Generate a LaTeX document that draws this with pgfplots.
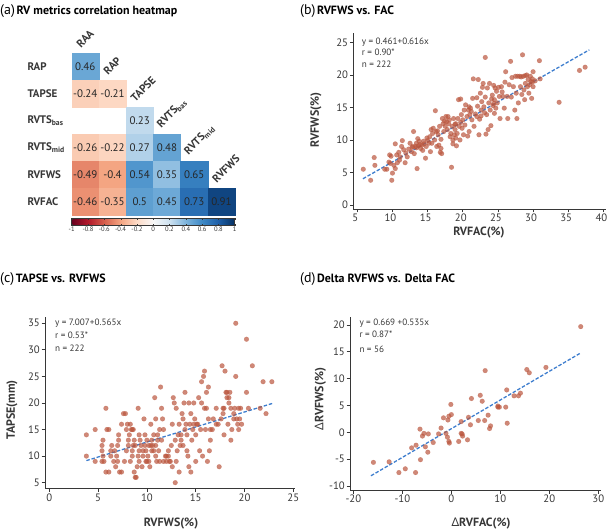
\documentclass[border=0pt]{standalone}
\usepackage{pgfplots}
\pgfplotsset{compat=1.18}
\usepackage{fontspec}
\setmainfont{PT Sans}
\newfontfamily\greekfont{Noto Sans}
\newcommand\D{{\greekfont\char"0394}}
\definecolor{dotc}{RGB}{186,86,62}
\definecolor{linec}{RGB}{62,126,206}
\definecolor{axc}{RGB}{55,55,55}
\pgfplotsset{
  sc/.style={scale only axis, axis x line*=bottom, axis y line*=left,
    axis line style={axc, line width=0.7bp}, tick style={axc, line width=0.7bp},
    tick align=outside, major tick length=3.5bp,
    tick label style={font=\fontsize{10.8}{11}\selectfont, text=axc, inner sep=1.5bp},
    /pgf/number format/assume math mode=true, clip=false},
  dots/.style={only marks, mark=*, mark size=2.35bp, mark options={fill=dotc, draw=dotc, fill opacity=0.7, draw opacity=0.45}},
  fitl/.style={no marks, linec, line width=1.3bp, dash pattern=on 3.5bp off 1.8bp}
}
\begin{document}
\begin{tikzpicture}
\path[use as bounding box] (0bp,0bp) rectangle (608bp,531bp);
% ---------- (a) heatmap
\begin{axis}[scale only axis, at={(71.7bp,315.7bp)}, anchor=south west, width=163.3bp, height=162bp,
  xmin=-0.5, xmax=5.5, ymin=-0.5, ymax=5.5, hide axis, clip=false,
  colormap={rdbu}{rgb255=(103,0,31) rgb255=(178,24,43) rgb255=(214,96,77) rgb255=(244,165,130) rgb255=(253,219,199) rgb255=(247,247,247) rgb255=(205,225,240) rgb255=(125,180,220) rgb255=(62,137,198) rgb255=(30,95,168) rgb255=(5,48,97)},
  point meta min=-1, point meta max=1,
  colorbar horizontal,
  colorbar style={scale only axis, at={(0,-0.018)}, anchor=north west, width=163bp, height=7.5bp,
    xtick={-1,-0.8,-0.6,-0.4,-0.2,0,0.2,0.4,0.6,0.8,1},
    xticklabels={-1,-0.8,-0.6,-0.4,-0.2,0,0.2,0.4,0.6,0.8,1},
    major tick length=1.5bp, tick style={axc},
    xticklabel style={font=\fontsize{6.6}{7}\selectfont, text=axc, inner sep=1bp},
    axis line style={axc, line width=0.5bp}},
]
\addplot[scatter, only marks, mark=square*, mark size=13.6bp, point meta=explicit,
  scatter/use mapped color={draw=mapped color, fill=mapped color}]
table[x=x, y=y, meta=v]{
x y v
0 5 0.46
0 4 -0.24
1 4 -0.21
2 3 0.23
0 2 -0.26
1 2 -0.22
2 2 0.27
3 2 0.48
0 1 -0.49
1 1 -0.4
2 1 0.54
3 1 0.35
4 1 0.65
0 0 -0.46
1 0 -0.35
2 0 0.5
3 0 0.45
4 0 0.73
5 0 0.91
};
\addplot[only marks, mark=none, point meta=explicit symbolic, nodes near coords, nodes near coords align=center,
  every node near coord/.append style={font=\fontsize{11}{11}\selectfont, text=black!85, anchor=center, inner sep=0}]
table[x=x, y=y, meta=lab]{
x y lab
0 5 0.46
0 4 -0.24
1 4 -0.21
2 3 0.23
0 2 -0.26
1 2 -0.22
2 2 0.27
3 2 0.48
0 1 -0.49
1 1 -0.4
2 1 0.54
3 1 0.35
4 1 0.65
0 0 -0.46
1 0 -0.35
2 0 0.5
3 0 0.45
4 0 0.73
5 0 0.91
};
\end{axis}
\begin{scope}[every node/.style={font=\bfseries\fontsize{11}{11}\selectfont, text=axc}]
\node[anchor=west] at (24bp,464.2bp) {RAP};
\node[anchor=west] at (24bp,437.2bp) {TAPSE};
\node[anchor=west] at (24bp,410.2bp) {RVTS\textsubscript{bas}};
\node[anchor=west] at (24bp,383.2bp) {RVTS\textsubscript{mid}};
\node[anchor=west] at (24bp,356.2bp) {RVFWS};
\node[anchor=west] at (24bp,329.2bp) {RVFAC};
\node[anchor=south west, rotate=45, inner sep=1bp] at (81bp,481bp) {RAA};
\node[anchor=south west, rotate=45, inner sep=1bp] at (108.2bp,454bp) {RAP};
\node[anchor=south west, rotate=45, inner sep=1bp] at (135.4bp,427bp) {TAPSE};
\node[anchor=south west, rotate=45, inner sep=1bp] at (162.6bp,400bp) {RVTS\textsubscript{bas}};
\node[anchor=south west, rotate=45, inner sep=1bp] at (189.8bp,373bp) {RVTS\textsubscript{mid}};
\node[anchor=south west, rotate=45, inner sep=1bp] at (217bp,346bp) {RVFWS};
\end{scope}
% ---------- (b)
\begin{axis}[sc, at={(353.3bp,322bp)}, anchor=south west, width=252.2bp, height=176bp,
  xmin=4.43, xmax=40.3, ymin=-0.62, ymax=26.46, xtick={5,10,...,40}, ytick={0,5,...,25},
  xticklabel style={xshift=-2bp}]
\addplot[dots] table{
5.85 5.5
6.9 3.8
7.4 7.3
7.5 6.1
8.9 5.5
9.2 5.5
9.6 7.7
9.8 7.5
9.7 6.4
9.9 3.8
10.0 4.9
10.2 6.1
10.4 5.6
10.4 9.4
10.6 7.7
10.7 6.5
11.1 7.4
11.3 9.0
11.4 9.9
11.6 8.5
11.8 6.5
11.9 8.0
12.1 7.4
12.3 8.6
12.5 9.5
12.7 8.2
12.9 9.0
13.0 11.3
13.1 7.9
13.3 9.0
13.4 9.5
13.4 8.8
13.5 5.6
13.6 10.2
13.7 9.1
13.8 9.8
14.0 8.7
14.2 9.2
14.4 9.8
14.5 9.4
14.7 7.2
14.8 9.0
14.9 10.3
15.2 9.5
15.3 10.5
15.4 8.2
15.5 11.6
15.6 9.5
15.7 11.0
15.8 11.8
16.0 10.0
16.1 14.5
16.2 11.3
16.3 9.0
16.5 10.8
16.6 9.2
16.7 12.1
16.8 8.1
16.9 8.7
17.0 7.9
17.1 13.3
17.2 12.5
17.3 11.3
17.5 12.1
17.6 13.6
17.7 12.8
17.8 11.6
17.9 13.6
18.0 12.5
18.1 13.1
18.2 10.5
18.3 11.0
18.4 5.8
18.5 12.1
18.6 10.0
18.7 13.3
18.8 10.8
18.9 11.6
19.0 10.3
19.0 12.5
19.1 9.1
19.2 11.0
19.3 13.3
19.4 16.2
19.5 12.1
19.6 10.0
19.7 16.3
19.8 13.9
19.9 11.8
20.0 13.1
20.1 10.8
20.2 14.6
20.4 15.4
20.6 13.6
20.7 10.6
20.8 14.6
20.9 15.1
21.0 13.9
21.2 14.4
21.3 13.1
21.4 16.4
21.5 19.4
21.6 12.1
21.8 14.0
22.0 13.6
22.1 15.2
22.2 19.3
22.3 10.8
22.4 13.2
22.5 17.2
22.6 14.6
22.6 13.7
22.7 15.9
22.8 18.1
22.9 18.7
23.0 15.1
23.2 22.7
23.2 16.6
23.3 10.9
23.4 13.9
23.5 18.0
23.6 11.6
23.7 15.7
23.8 18.7
23.9 14.6
24.0 12.2
24.1 16.3
24.2 16.9
24.3 15.3
24.4 18.4
24.5 14.1
24.5 16.2
24.6 18.0
24.7 14.9
24.8 17.5
24.9 15.7
25.1 18.1
25.2 16.7
25.3 13.3
25.5 18.2
25.7 16.7
25.9 14.9
26.1 20.5
26.3 16.7
26.4 13.3
26.6 18.5
26.8 22.1
26.9 16.6
27.2 18.2
27.4 14.6
27.5 19.8
27.6 17.2
27.7 13.3
27.8 19.8
27.9 15.7
28.1 19.8
28.2 18.2
28.3 19.7
28.4 17.0
28.5 23.1
28.6 19.8
28.7 17.7
28.8 16.2
28.9 18.7
29.1 20.0
29.2 18.2
29.3 19.3
29.4 17.2
29.5 18.5
29.6 19.8
29.7 19.0
29.8 16.4
29.9 19.4
30.0 20.5
30.0 18.2
30.9 22.2
31.0 19.4
33.7 15.8
36.6 20.7
37.4 21.2
12.8 8.9
13.9 9.3
14.3 8.4
15.0 9.9
16.4 11.4
17.4 12.9
18.9 12.4
19.7 12.7
20.3 12.3
21.1 14.9
22.0 16.5
23.1 14.2
24.4 15.6
25.6 17.4
26.0 18.9
27.0 19.6
28.9 19.9
29.9 18.9
30.3 19.1
11.0 6.9
10.9 8.1
9.5 6.6
16.9 10.1
18.6 9.4
20.9 11.3
};
\addplot[fitl] coordinates {(5.8,4.03) (38,23.87)};
\end{axis}
% ---------- (c)
\begin{axis}[sc, at={(45bp,42.7bp)}, anchor=south west, width=250bp, height=171.6bp,
  xmin=-0.44, xmax=25.17, ymin=3.94, ymax=36.24, xtick={0,5,...,25}, ytick={5,10,...,35}]
\addplot[dots] table{
3.8 14
3.8 10
4.7 9
4.7 15
5.5 13
5.4 12
5.4 11
5.5 10
5.4 9
5.6 9
5.8 7
5.8 19
5.9 15
6.1 7
6.1 15
6.3 11
6.3 10
6.4 12
6.6 9
6.7 11
6.8 8
7.0 12
7.0 9
7.1 13
7.1 14
7.2 7
7.4 7
7.4 16
7.6 18
7.7 9
7.8 18
7.9 15
7.9 11
8.0 16
8.1 12
8.1 13
8.2 14
8.3 16
8.3 9
8.4 15
8.5 10
8.5 15
8.5 11
8.6 15
8.7 13
8.7 7
8.8 12
8.8 6
8.9 6
9.0 8
9.1 19
9.1 10
9.2 14
9.2 11
9.2 9
9.3 13
9.4 12
9.5 8
9.6 11
9.6 10
9.7 17
9.8 14
9.8 12
9.9 11
10.0 9
10.0 13
10.1 10
10.2 9
10.2 12
10.3 8
10.4 16
10.5 11
10.5 13
10.6 12
10.7 14
10.7 11
10.8 21
10.9 17
10.9 12
10.9 10
11.0 9
11.1 13
11.1 14
11.3 9
11.3 15
11.4 23
11.5 19
11.5 13
11.6 17
11.7 15
11.7 9
11.9 10
12.0 10
12.0 9
12.2 11
12.2 10
12.3 9
12.4 9
12.6 16
12.6 8
12.7 21
12.8 20
12.9 13
12.9 5
13.0 19
13.0 9
13.1 11
13.2 14
13.3 7
13.3 16
13.4 12
13.5 14
13.5 13
13.6 18
13.7 17
13.7 12
13.8 20
13.9 15
13.9 22
14.0 16
14.1 11
14.1 14
14.2 10
14.3 20
14.3 8
14.4 16
14.5 18
14.5 7
14.6 13
14.7 15
14.8 20
14.8 16
14.9 17
15.0 9
15.0 14
15.1 16
15.2 16
15.3 21
15.4 11
15.5 15
15.6 20
15.6 24
15.7 10
15.8 25
15.9 19
15.9 26
16.0 15
16.1 22
16.1 19
16.2 9
16.3 17
16.3 23
16.4 11
16.5 15
16.5 13
16.7 15
16.8 17
17.1 19
17.1 16
17.3 16
17.4 8
17.6 17
17.7 27
17.8 18
17.8 19
17.9 14
17.9 19
18.0 26
18.1 22
18.2 21
18.2 22
18.3 16
18.4 20
18.4 21
18.5 22
18.6 19
18.6 13
18.7 15
18.9 18
18.9 17
19.0 19
19.1 35
19.1 25
19.2 17
19.3 16
19.4 15
19.4 19
19.5 17
19.6 19
19.7 16
20.2 32
20.2 22
20.4 19
20.8 27
21.6 19
21.9 24
22.2 18
22.8 24
6.9 10
8.6 12
10.4 12
11.2 11
12.5 12
9.9 9
};
\addplot[fitl] coordinates {(3.8,9.15) (23,20.0)};
\end{axis}
% ---------- (d)
\begin{axis}[sc, at={(350bp,41bp)}, anchor=south west, width=251bp, height=173.3bp,
  xmin=-20.68, xmax=30.54, ymin=-10.75, ymax=21.55, xtick={-20,-10,...,30}, ytick={-10,-5,...,20}]
\addplot[dots] table{
-15.9 -5.6
-12.7 -5.5
-10.7 -7.5
-9.4 -6.8
-7.3 -7.5
-7.2 -2.4
-8.1 -2.9
-6.4 0.6
-6.3 -5.1
-5.9 -0.7
-5.6 -0.2
-5.3 -2.7
-4.8 -3.7
-4.7 -0.3
-3.7 -1.9
-2.6 -0.3
-2.1 0.8
-1.6 2.7
-1.1 -0.2
-0.8 -0.9
-0.7 2.3
-0.5 3.0
-0.5 -1.7
-0.4 -2.0
-0.1 5.2
0.0 3.3
1.5 -1.7
2.0 2.0
2.2 -0.3
2.3 -0.7
2.0 -0.2
3.3 -1.4
3.5 2.8
3.9 1.4
4.1 6.3
5.5 2.2
5.9 6.9
6.3 5.8
6.8 2.2
6.9 11.5
7.5 3.2
7.8 0.7
8.0 1.2
9.5 4.7
9.8 4.7
9.5 4.9
11.1 4.7
11.3 7.9
11.4 1.7
12.8 6.8
13.7 6.8
14.1 7.3
15.4 11.7
15.9 11.1
19.3 12.1
26.4 19.7
};
\addplot[fitl] coordinates {(-16.4,-8.1) (26.2,14.69)};
\end{axis}
% ---------- titles
\node[anchor=base west, inner sep=0] at (0bp,516bp) {{\fontsize{14}{14}\selectfont (a)}\,{\bfseries\fontsize{12}{12}\selectfont RV metrics correlation heatmap}};
\node[anchor=base west, inner sep=0] at (300bp,516bp) {{\fontsize{14}{14}\selectfont (b)}\,{\bfseries\fontsize{12}{12}\selectfont RVFWS vs. FAC}};
\node[anchor=base west, inner sep=0] at (0bp,248.3bp) {{\fontsize{14}{14}\selectfont (c)}\,{\bfseries\fontsize{12}{12}\selectfont TAPSE vs. RVFWS}};
\node[anchor=base west, inner sep=0] at (300bp,248.3bp) {{\fontsize{14}{14}\selectfont (d)}\,{\bfseries\fontsize{12}{12}\selectfont Delta RVFWS vs. Delta FAC}};
% ---------- axis labels
\begin{scope}[every node/.style={font=\bfseries\fontsize{12}{12}\selectfont, text=axc, inner sep=0}]
\node at (479bp,298bp) {RVFAC(\%)};
\node[rotate=90] at (316bp,411bp) {RVFWS(\%)};
\node at (171bp,7.5bp) {RVFWS(\%)};
\node[rotate=90] at (12bp,121bp) {TAPSE(mm)};
\node at (481bp,7.5bp) {\D RVFAC(\%)};
\node[rotate=90] at (320.5bp,132bp) {\D RVFWS(\%)};
\end{scope}
% ---------- annotations
\begin{scope}[every node/.style={font=\fontsize{9.2}{9}\selectfont, text=axc, inner sep=0, anchor=base west}]
\node at (361.7bp,486.7bp) {y = 0.461+0.616x};
\node at (361.7bp,475bp) {r = 0.90*};
\node at (361.7bp,463.3bp) {n = 222};
\node at (55bp,205bp) {y = 7.007+0.565x};
\node at (55bp,192.7bp) {r = 0.53*};
\node at (55bp,179.3bp) {n = 222};
\node at (359.3bp,205bp) {y = 0.669 +0.535x};
\node at (359.3bp,193.3bp) {r = 0.87*};
\node at (359.3bp,178.7bp) {n = 56};
\end{scope}
\end{tikzpicture}
\end{document}
